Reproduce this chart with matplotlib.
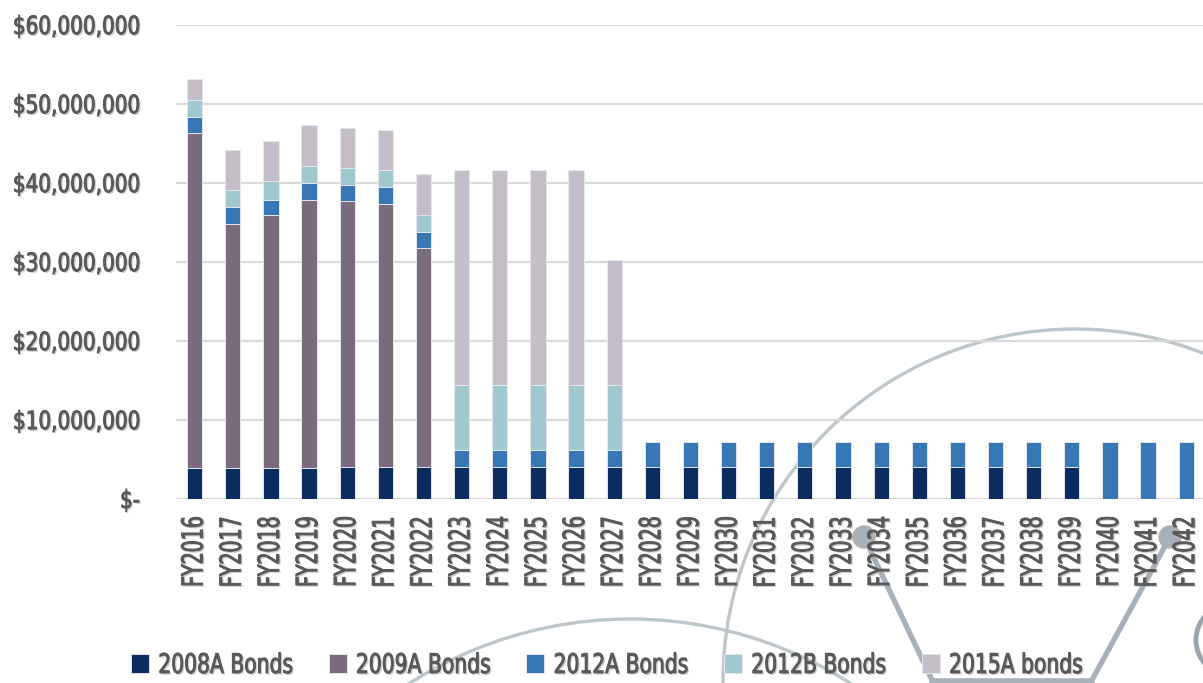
import matplotlib
matplotlib.use("Agg")
import matplotlib.pyplot as plt
import matplotlib.patheffects as pe
from matplotlib.patches import Circle
from matplotlib.transforms import Affine2D
from matplotlib.ticker import FuncFormatter
import numpy as np

# fiscal years on the x axis
years = [f"FY{y}" for y in range(2016, 2043)]

# debt service by series, in millions of dollars
bonds_2008a = [3.9, 3.9, 3.9, 3.9, 4.1, 4.1, 4.1, 4.1, 4.1, 4.1, 4.1, 4.1,
               4.1, 4.1, 4.1, 4.1, 4.1, 4.1, 4.1, 4.1, 4.1, 4.1, 4.1, 4.1,
               0, 0, 0]
bonds_2009a = [42.4, 30.95, 32.0, 34.0, 33.6, 33.3, 27.7] + [0] * 20
bonds_2012a = [2.0, 2.05, 2.0, 2.1, 2.0, 2.1, 2.0, 2.1, 2.1, 2.1, 2.1, 2.1,
               3.1, 3.1, 3.1, 3.1, 3.1, 3.1, 3.1, 3.1, 3.1, 3.1, 3.1, 3.1,
               7.2, 7.2, 7.2]
bonds_2012b = [2.2, 2.2, 2.3, 2.2, 2.2, 2.2, 2.2, 8.2, 8.2, 8.2, 8.2, 8.2] + [0] * 15
bonds_2015a = [2.7, 5.1, 5.1, 5.1, 5.1, 5.0, 5.1, 27.2, 27.2, 27.2, 27.2, 15.8] + [0] * 15

series = [
    ("2008A Bonds", bonds_2008a, "#0b2c5f"),
    ("2009A Bonds", bonds_2009a, "#7a6b7d"),
    ("2012A Bonds", bonds_2012a, "#3778b4"),
    ("2012B Bonds", bonds_2012b, "#9fc8cf"),
    ("2015A bonds", bonds_2015a, "#c5bec9"),
]

TXT = "#595959"


class Squeeze(pe.AbstractPathEffect):
    """reshape the glyphs (no condensed font installed here)"""

    def __init__(self, sx, sy, anchor, inner):
        super().__init__()
        self.sx, self.sy, self.anchor, self.inner = sx, sy, anchor, inner

    def draw_path(self, renderer, gc, tpath, affine, rgbFace=None):
        ext = tpath.get_extents()
        x0 = {"left": ext.x0, "right": ext.x1, "center": (ext.x0 + ext.x1) / 2}[self.anchor]
        y0 = (ext.y0 + ext.y1) / 2
        sq = Affine2D().translate(-x0, -y0).scale(self.sx, self.sy).translate(x0, y0)
        self.inner.draw_path(renderer, gc, tpath, sq + affine, rgbFace)


def condensed(sx, anchor, sy=1.0):
    return [Squeeze(sx, sy, anchor, pe.SimplePatchShadow(offset=(1.2, -1.2), shadow_rgbFace="#9a9a9a", alpha=0.45)),
            Squeeze(sx, sy, anchor, pe.Stroke(linewidth=0.7, foreground=TXT)),
            Squeeze(sx, sy, anchor, pe.Normal())]


W, H = 1203, 683
fig = plt.figure(figsize=(W / 100, H / 100), dpi=100)

# background decoration (pixel coordinates)
bg = fig.add_axes([0, 0, 1, 1], zorder=0)
bg.set_xlim(0, W)
bg.set_ylim(H, 0)
bg.axis("off")
arc_col = "#bcc6cb"
bg.add_patch(Circle((1075, 681), 352, fill=False, ec=arc_col, lw=2.4))
bg.add_patch(Circle((630, 1029), 410, fill=False, ec=arc_col, lw=2.4))
net_col = "#a8b0b9"
bg.plot([864, 932], [537, 680], color=net_col, lw=3.8, solid_capstyle="round")
bg.plot([1170, 1092], [537, 680], color=net_col, lw=3.8, solid_capstyle="round")
bg.plot([932, 1092], [681, 681], color=net_col, lw=4)
bg.add_patch(Circle((864, 537), 11, color=net_col))
bg.add_patch(Circle((1170, 537), 11, color=net_col))
bg.add_patch(Circle((1232, 640), 36, fill=False, ec="#9aa2aa", lw=3.5))

ax = fig.add_axes([176 / W, 1 - 499 / H, 1 - 176 / W, (499 - 25) / H], zorder=1)
ax.patch.set_alpha(0)

x = np.arange(len(years))
bottom = np.zeros(len(years))
for name, vals, col in series:
    v = np.array(vals) * 1e6
    ax.bar(x, v, 0.4, bottom=bottom, color=col, edgecolor="#e3e7ee",
           linewidth=0.7, label=name, zorder=3)
    bottom += v

ax.set_xlim(-0.49, 26.44)
ax.set_ylim(0, 60e6)
ax.set_yticks(np.arange(0, 60e6 + 1, 10e6))
ax.yaxis.set_major_formatter(FuncFormatter(lambda v, p: "$-" if v == 0 else f"${v:,.0f}"))
ax.grid(axis="y", color="#d9d9d9", lw=1.6, zorder=0)
ax.set_axisbelow(True)
for s in ax.spines.values():
    s.set_visible(False)
ax.tick_params(axis="y", length=0, pad=26, labelsize=15.5, labelcolor=TXT)
ax.tick_params(axis="x", length=0, pad=12, labelsize=21, labelcolor=TXT)
ax.set_xticks(x)
ax.set_xticklabels(years, rotation=90)
for t in ax.get_yticklabels():
    t.set_path_effects(condensed(0.93, "right", sy=1.17))
for t in ax.get_xticklabels():
    t.set_path_effects(condensed(0.65, "right"))

leg = fig.legend(loc="center left", bbox_to_anchor=(131 / W, 1 - 666 / H), ncol=5,
                 frameon=False, fontsize=19.5, handlelength=0.66, handleheight=0.66,
                 handletextpad=0.33, columnspacing=-0.33, borderaxespad=0, borderpad=0)
for t in leg.get_texts():
    t.set_color(TXT)
    t.set_path_effects(condensed(0.75, "left"))

fig.savefig("out.png", dpi=100)
